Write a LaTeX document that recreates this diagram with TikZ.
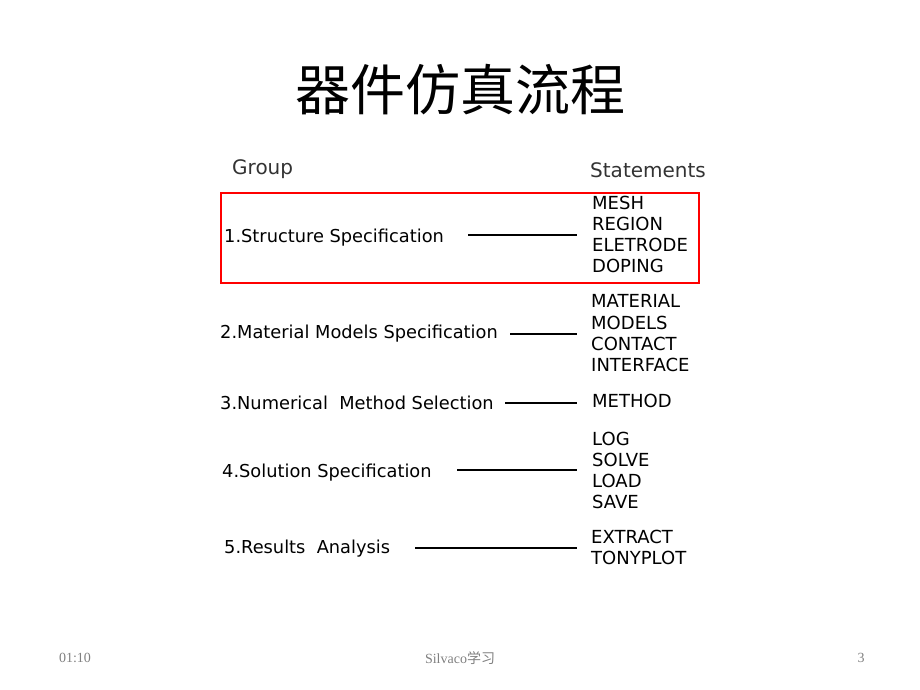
\documentclass[tikz,border=0pt]{standalone}
\usepackage{fontspec}
\setmainfont{DejaVu Sans}
\newfontfamily\cjk{Noto Sans CJK SC}
\newfontfamily\foot{Liberation Serif}
\begin{document}
\begin{tikzpicture}[x=1pt,y=-1pt,
  lab/.style={anchor=west,inner sep=0pt,font=\fontsize{17.8}{20}\selectfont},
  st/.style={anchor=west,inner sep=0pt,font=\fontsize{18}{20}\selectfont},
  hd/.style={anchor=west,inner sep=0pt,font=\fontsize{20}{22}\selectfont,text=black!80},
  conn/.style={line width=1.6pt},
  ft/.style={inner sep=0pt,font=\foot\fontsize{14}{16}\selectfont,text=gray}]
\useasboundingbox (0,0) rectangle (920,690);
\node[font=\cjk\fontsize{55}{60}\selectfont] (title) at (460,90) {器件仿真流程};
\node[hd] (group) at (232,169) {Group};
\node[hd] (stmts) at (590,170) {Statements};
\draw[red,line width=1.5pt] (221,193) rectangle (699,283);
\node[lab] (g1) at (224,238) {1.Structure Specification};
\node[lab] (g2) at (220,334) {2.Material Models Specification};
\node[lab] (g3) at (220,403) {3.Numerical\ \ Method Selection};
\node[lab] (g4) at (222,473) {4.Solution Specification};
\node[lab] (g5) at (224,549) {5.Results\ \ Analysis};
\node[st] (s1a) at (592,203) {MESH};
\node[st] (s1b) at (592,224) {REGION};
\node[st] (s1c) at (592,245) {ELETRODE};
\node[st] (s1d) at (592,266) {DOPING};
\node[st] (s2a) at (591,301) {MATERIAL};
\node[st] (s2b) at (591,323) {MODELS};
\node[st] (s2c) at (591,344) {CONTACT};
\node[st] (s2d) at (591,365) {INTERFACE};
\node[st] (s3a) at (592,401) {METHOD};
\node[st] (s4a) at (592,439) {LOG};
\node[st] (s4b) at (592,460) {SOLVE};
\node[st] (s4c) at (592,481) {LOAD};
\node[st] (s4d) at (592,502) {SAVE};
\node[st] (s5a) at (591,537) {EXTRACT};
\node[st] (s5b) at (591,558) {TONYPLOT};
\coordinate (a1) at (468,235); \coordinate (b1) at (577,235);
\coordinate (a2) at (510,334); \coordinate (b2) at (577,334);
\coordinate (a3) at (505,403); \coordinate (b3) at (577,403);
\coordinate (a4) at (457,470); \coordinate (b4) at (577,470);
\coordinate (a5) at (415,548); \coordinate (b5) at (577,548);
\foreach \i in {1,...,5} \draw[conn] (a\i) -- (b\i);
\node[ft] (time) at (75,658) {01:10};
\node[ft] (mid) at (460,658) {Silvaco{\cjk 学习}};
\node[ft] (num) at (861,658) {3};
\end{tikzpicture}
\end{document}
